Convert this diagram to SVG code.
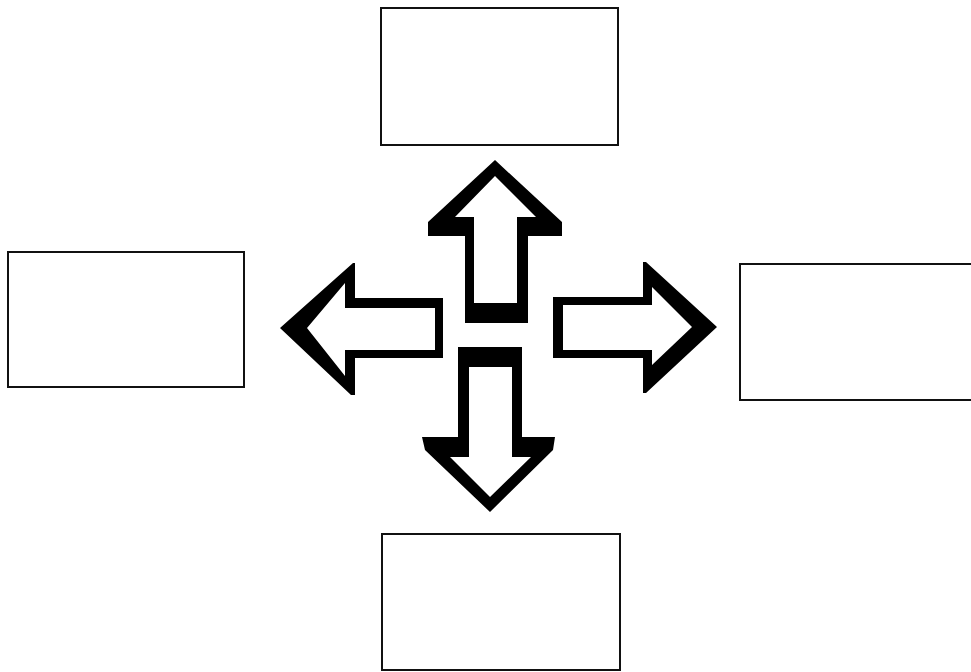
<svg xmlns="http://www.w3.org/2000/svg" width="971" height="672" viewBox="0 0 971 672">
<style>
.box{fill:#fff;stroke:#111;stroke-width:2}
.arrow{fill:#000;fill-rule:evenodd;stroke:none}
</style>
<rect width="971" height="672" fill="#fff"/>
<g id="node-top"><rect class="box" x="381" y="8" width="237" height="137"/></g>
<g id="node-left"><rect class="box" x="8" y="252" width="236" height="135"/></g>
<g id="node-right"><rect class="box" x="740" y="264" width="240" height="136"/></g>
<g id="node-bottom"><rect class="box" x="382" y="534" width="238" height="136"/></g>
<g id="connectors">
<path id="arrow-up" class="arrow" d="M495,160 L562,222 L562,236 L528,236 L528,323 L465,323 L465,236 L428,236 L428,222 Z M495,176 L455,217 L474,217 L474,303 L517,303 L517,217 L536,217 Z"/>
<path id="arrow-left" class="arrow" d="M280,328 L353,263 L355,263 L355,298 L443,298 L443,358 L355,358 L355,395 L351,395 Z M307,328 L345,376 L345,350 L435,350 L435,308 L345,308 L345,283 Z"/>
<path id="arrow-right" class="arrow" d="M553,297 L643,297 L643,262 L646,262 L717,327 L646,393 L643,393 L643,358 L553,358 Z M563,305 L563,350 L652,350 L652,365 L692,327 L652,287 L652,305 Z"/>
<path id="arrow-down" class="arrow" d="M458,347 L522,347 L522,437 L555,437 L553,450 L490,512 L425,450 L422,437 L458,437 Z M469,367 L469,457 L450,457 L490,497 L531,457 L512,457 L512,367 Z"/>
</g>
</svg>
